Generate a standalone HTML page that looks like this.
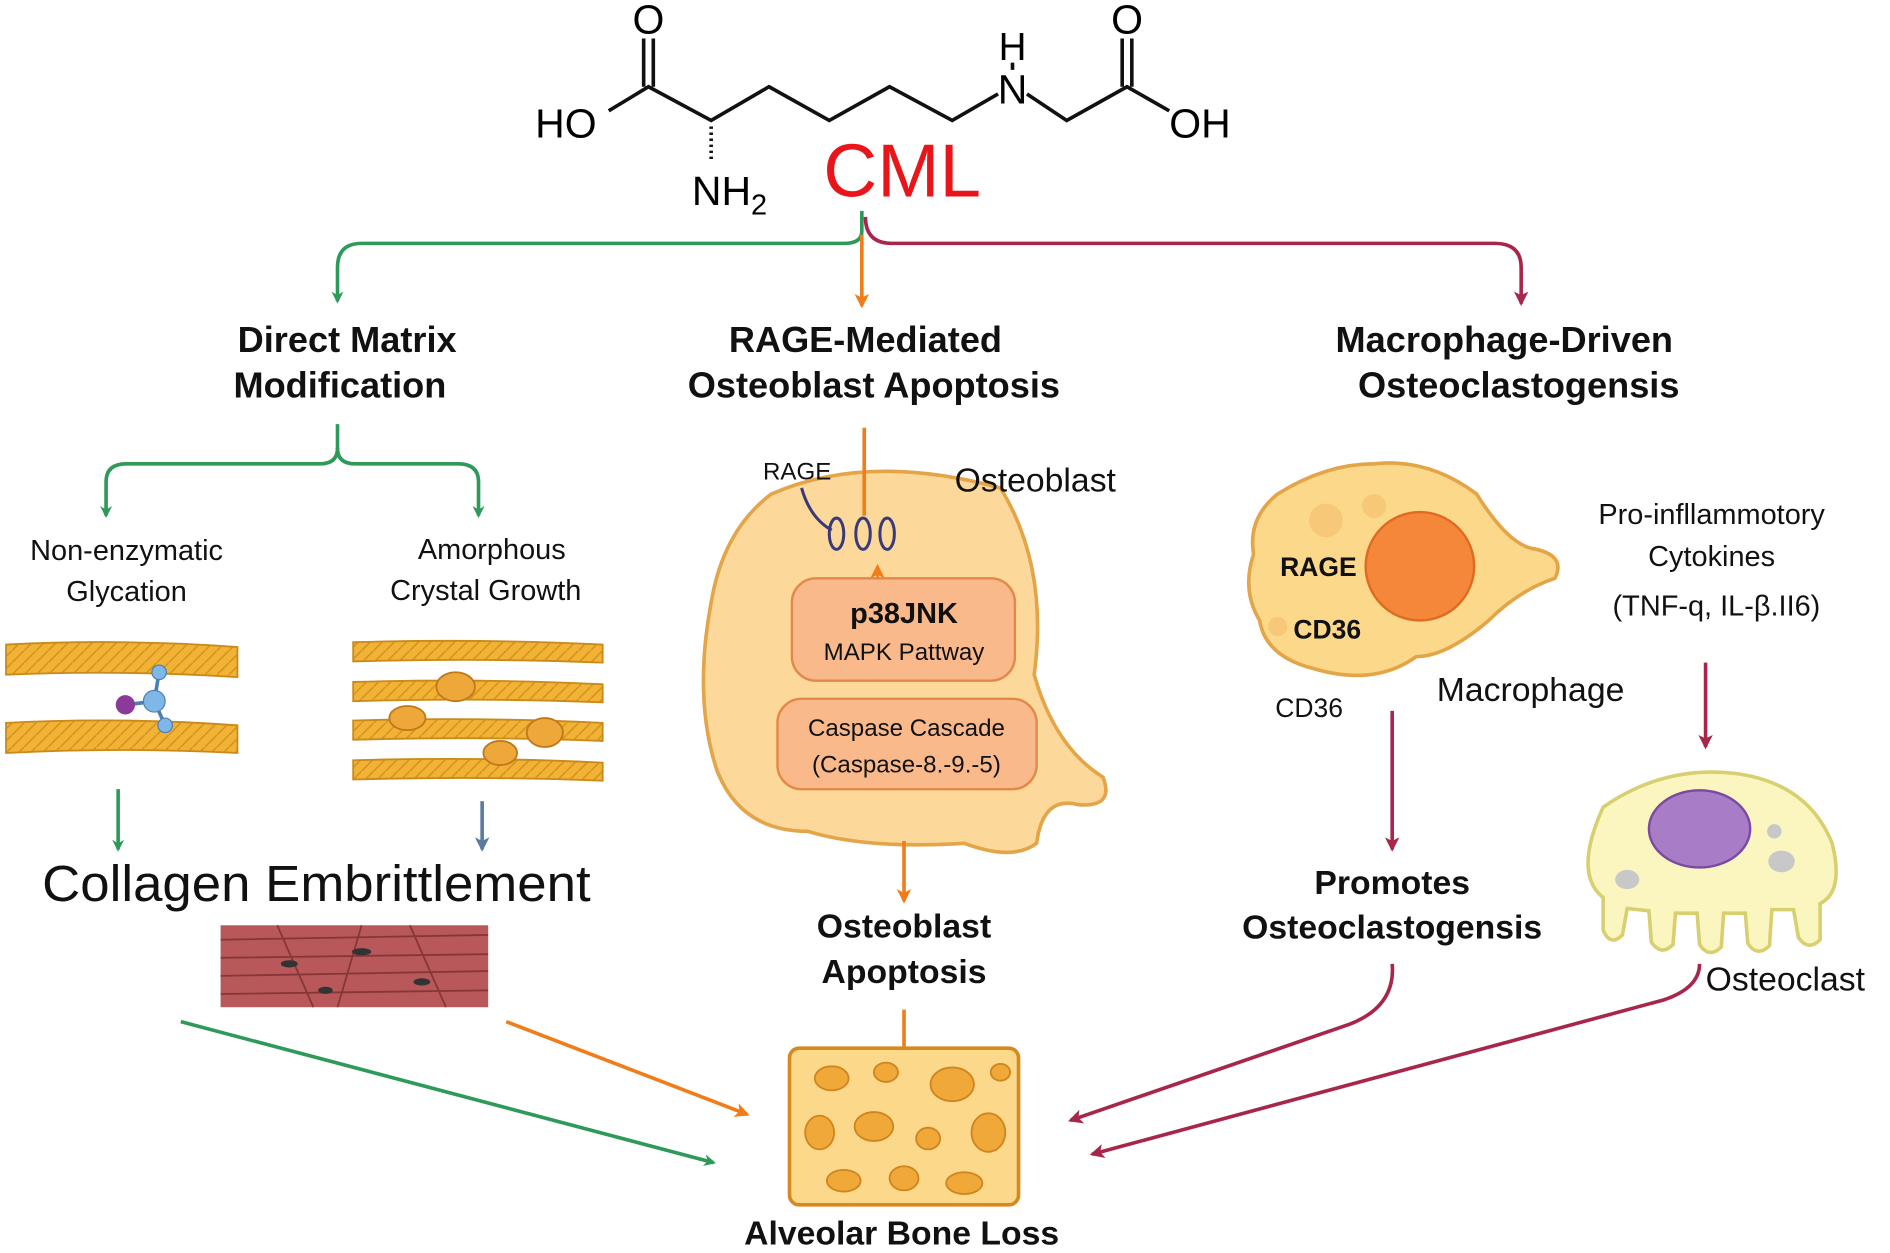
<!DOCTYPE html>
<html><head><meta charset="utf-8"><style>
html,body{margin:0;padding:0;background:#fff}
svg{display:block}
text{font-family:"Liberation Sans",sans-serif}
</style></head><body>
<svg width="1890" height="1253" viewBox="0 0 1568 1040" preserveAspectRatio="none" xmlns="http://www.w3.org/2000/svg">
<defs>
<marker id="ag" markerWidth="10" markerHeight="10" refX="8" refY="5" orient="auto" markerUnits="userSpaceOnUse"><path d="M0,0 L10,5 L0,10 L3,5z" fill="#2e9a5a"/></marker>
<marker id="ao" markerWidth="12" markerHeight="12" refX="10" refY="6" orient="auto" markerUnits="userSpaceOnUse"><path d="M0,0 L12,6 L0,12 L3,6z" fill="#f07d1a"/></marker>
<marker id="ar" markerWidth="12" markerHeight="12" refX="10" refY="6" orient="auto" markerUnits="userSpaceOnUse"><path d="M0,0 L12,6 L0,12 L3,6z" fill="#a8264a"/></marker>
<marker id="ab" markerWidth="12" markerHeight="12" refX="10" refY="6" orient="auto" markerUnits="userSpaceOnUse"><path d="M0,0 L12,6 L0,12 L3,6z" fill="#5a7aa0"/></marker>
<pattern id="fib" width="10" height="10" patternUnits="userSpaceOnUse"><rect width="10" height="10" fill="#f1b235"/><path d="M0,10 L10,0" stroke="#d0901e" stroke-width="1.2"/></pattern>
</defs>

<g stroke="#111" stroke-width="3" fill="none">
<path d="M505,92 L538,72 L590,100 L638,72 L688,100 L738,72 L790,100 L828,78"/>
<path d="M852,78 L885,100 L935,72 L970,92"/>
<path d="M534,72 L534,32 M542,72 L542,32"/>
<path d="M931,72 L931,32 M939,72 L939,32"/>
<path d="M840,52 L840,58"/>
<path d="M590,105 L590,135" stroke-dasharray="2,3"/>
</g>
<text x="538" y="28" font-size="34" text-anchor="middle">O</text>
<text x="935" y="28" font-size="34" text-anchor="middle">O</text>
<text x="444" y="114" font-size="34">HO</text>
<text x="970" y="114" font-size="34">OH</text>
<text x="840" y="86" font-size="34" text-anchor="middle">N</text>
<text x="840" y="50" font-size="32" text-anchor="middle">H</text>
<text x="574" y="170" font-size="34">NH<tspan font-size="24" dy="8">2</tspan></text>
<text x="683" y="163" font-size="62" fill="#e8161b">CML</text>

<path d="M715,175 L715,192 Q715,202 700,202 L300,202 Q280,202 280,222 L280,250" stroke="#2e9a5a" stroke-width="3" fill="none" marker-end="url(#ag)"/>
<path d="M718,180 Q718,202 740,202 L1240,202 Q1262,202 1262,222 L1262,252" stroke="#a8264a" stroke-width="3" fill="none" marker-end="url(#ar)"/>
<path d="M715,195 L715,254" stroke="#f07d1a" stroke-width="3" fill="none" marker-end="url(#ao)"/>

<g font-size="30" font-weight="bold" text-anchor="middle" fill="#111">
<text x="288" y="292">Direct Matrix</text><text x="282" y="330">Modification</text>
<text x="718" y="292">RAGE-Mediated</text><text x="725" y="330">Osteoblast Apoptosis</text>
<text x="1248" y="292">Macrophage-Driven</text><text x="1260" y="330">Osteoclastogensis</text>
</g>

<path d="M280,352 L280,372 Q280,385 265,385 L105,385 Q88,385 88,400 L88,428" stroke="#2e9a5a" stroke-width="3" fill="none" marker-end="url(#ag)"/>
<path d="M280,372 Q280,385 295,385 L380,385 Q397,385 397,400 L397,428" stroke="#2e9a5a" stroke-width="3" fill="none" marker-end="url(#ag)"/>

<g font-size="24" text-anchor="middle" fill="#111">
<text x="105" y="465">Non-enzymatic</text><text x="105" y="499">Glycation</text>
<text x="408" y="464">Amorphous</text><text x="403" y="498">Crystal Growth</text>
</g>

<g stroke="#c98a1a" stroke-width="1.5" fill="url(#fib)">
<path d="M5,535 Q100,530 197,537 L197,562 Q100,556 5,560z"/>
<path d="M5,600 Q100,595 197,602 L197,625 Q100,620 5,625z"/>
<path d="M293,533 Q400,530 500,535 L500,550 Q400,546 293,549z"/>
<path d="M293,566 Q400,563 500,568 L500,583 Q400,579 293,582z"/>
<path d="M293,598 Q400,595 500,600 L500,615 Q400,611 293,614z"/>
<path d="M293,631 Q400,628 500,633 L500,648 Q400,644 293,647z"/>
</g>
<g fill="#eea83a" stroke="#c07818" stroke-width="1.5">
<ellipse cx="378" cy="570" rx="16" ry="12"/><ellipse cx="338" cy="596" rx="15" ry="10"/><ellipse cx="452" cy="608" rx="15" ry="12"/><ellipse cx="415" cy="625" rx="14" ry="10"/>
</g>
<g stroke="#4a80b0" stroke-width="3" fill="none"><path d="M105,585 L128,582 L132,558 M128,582 L137,602"/></g>
<circle cx="104" cy="585" r="8" fill="#8a3a9a"/><circle cx="128" cy="582" r="9" fill="#7fb8e8" stroke="#4a80b0"/><circle cx="132" cy="558" r="6" fill="#7fb8e8" stroke="#4a80b0"/><circle cx="137" cy="602" r="6" fill="#7fb8e8" stroke="#4a80b0"/>

<path d="M98,655 L98,705" stroke="#2e9a5a" stroke-width="3" marker-end="url(#ag)"/>
<path d="M400,665 L400,705" stroke="#5a7aa0" stroke-width="3" marker-end="url(#ab)"/>
<text x="35" y="748" font-size="42" fill="#111" textLength="455" lengthAdjust="spacingAndGlyphs">Collagen Embrittlement</text>

<rect x="183" y="768" width="222" height="68" fill="#b8585a"/>
<g stroke="#7a2e30" stroke-width="1.5" opacity="0.8">
<path d="M183,780 L405,776 M183,795 L405,792 M183,810 L405,806 M183,825 L405,822"/>
<path d="M230,768 L260,836 M300,768 L280,836 M340,768 L370,836"/>
</g>
<g fill="#333"><ellipse cx="240" cy="800" rx="7" ry="3"/><ellipse cx="300" cy="790" rx="8" ry="3"/><ellipse cx="350" cy="815" rx="7" ry="3"/><ellipse cx="270" cy="822" rx="6" ry="3"/></g>

<path d="M150,848 L592,965" stroke="#2e9a5a" stroke-width="3" marker-end="url(#ag)"/>
<path d="M420,848 L620,925" stroke="#f07d1a" stroke-width="3" marker-end="url(#ao)"/>

<path d="M640,410 Q720,375 830,405 Q870,470 858,560 Q875,620 915,645 Q925,670 895,668 Q865,660 860,700 Q840,715 800,700 Q720,705 670,690 Q615,690 595,640 Q575,580 590,500 Q600,440 640,410z" fill="#fcd99b" stroke="#e4a448" stroke-width="3"/>
<path d="M717,355 L717,428" stroke="#f07d1a" stroke-width="3"/>
<text x="633" y="398" font-size="20" fill="#111">RAGE</text>
<path d="M665,405 Q672,430 690,440" stroke="#3a3a7a" stroke-width="2.5" fill="none"/>
<g fill="none" stroke="#3a3a7a" stroke-width="2.5"><ellipse cx="694" cy="443" rx="6" ry="13"/><ellipse cx="716" cy="443" rx="6" ry="13"/><ellipse cx="736" cy="443" rx="6" ry="13"/></g>
<text x="792" y="408" font-size="28" fill="#111">Osteoblast</text>
<rect x="657" y="480" width="185" height="85" rx="20" fill="#f9b98a" stroke="#e38848" stroke-width="2"/>
<text x="750" y="517" font-size="24" font-weight="bold" text-anchor="middle" fill="#111">p38JNK</text>
<text x="750" y="548" font-size="20" text-anchor="middle" fill="#111">MAPK Pattway</text>
<rect x="645" y="580" width="215" height="75" rx="20" fill="#f9b98a" stroke="#e38848" stroke-width="2"/>
<text x="752" y="611" font-size="20" text-anchor="middle" fill="#111">Caspase Cascade</text>
<text x="752" y="641" font-size="20" text-anchor="middle" fill="#111">(Caspase-8.-9.-5)</text>
<path d="M728,480 L728,470" stroke="#f07d1a" stroke-width="2" marker-end="url(#ao)"/>
<path d="M750,698 L750,748" stroke="#f07d1a" stroke-width="3" marker-end="url(#ao)"/>
<g font-size="28" font-weight="bold" text-anchor="middle" fill="#111"><text x="750" y="778">Osteoblast</text><text x="750" y="816">Apoptosis</text></g>
<path d="M750,838 L750,872" stroke="#f07d1a" stroke-width="3"/>

<rect x="655" y="870" width="190" height="130" rx="8" fill="#fcd88a" stroke="#d58a20" stroke-width="3"/>
<g fill="#f0a838" stroke="#d08420" stroke-width="1.5">
<ellipse cx="690" cy="895" rx="14" ry="10"/><ellipse cx="735" cy="890" rx="10" ry="8"/><ellipse cx="790" cy="900" rx="18" ry="14"/><ellipse cx="830" cy="890" rx="8" ry="7"/>
<ellipse cx="680" cy="940" rx="12" ry="14"/><ellipse cx="725" cy="935" rx="16" ry="12"/><ellipse cx="770" cy="945" rx="10" ry="9"/><ellipse cx="820" cy="940" rx="14" ry="16"/>
<ellipse cx="700" cy="980" rx="14" ry="9"/><ellipse cx="750" cy="978" rx="12" ry="10"/><ellipse cx="800" cy="982" rx="15" ry="9"/>
</g>
<text x="748" y="1033" font-size="28" font-weight="bold" text-anchor="middle" fill="#111">Alveolar Bone Loss</text>

<path d="M1060,410 Q1100,385 1140,385 Q1185,380 1225,410 Q1250,450 1270,455 Q1300,460 1290,480 Q1260,490 1235,515 Q1200,545 1175,545 Q1140,570 1090,555 Q1050,545 1045,515 Q1030,490 1040,460 Q1035,430 1060,410z" fill="#fcd88a" stroke="#e4a448" stroke-width="3"/>
<g fill="#f7c878"><circle cx="1100" cy="432" r="14"/><circle cx="1140" cy="420" r="10"/><circle cx="1060" cy="520" r="8"/></g>
<circle cx="1178" cy="470" r="45" fill="#f4873a" stroke="#e06a20" stroke-width="2"/>
<text x="1062" y="478" font-size="22" font-weight="bold" fill="#111">RAGE</text>
<text x="1073" y="530" font-size="22" font-weight="bold" fill="#111">CD36</text>
<text x="1058" y="595" font-size="22" fill="#111">CD36</text>
<text x="1192" y="582" font-size="28" fill="#111">Macrophage</text>
<g font-size="24" text-anchor="middle" fill="#111"><text x="1420" y="435">Pro-infllammotory</text><text x="1420" y="470">Cytokines</text><text x="1424" y="511">(TNF-q, IL-β.II6)</text></g>
<path d="M1155,590 L1155,705" stroke="#a8264a" stroke-width="3" marker-end="url(#ar)"/>
<path d="M1415,550 L1415,620" stroke="#a8264a" stroke-width="3" marker-end="url(#ar)"/>
<g font-size="28" font-weight="bold" text-anchor="middle" fill="#111"><text x="1155" y="742">Promotes</text><text x="1155" y="779">Osteoclastogensis</text></g>

<path d="M1330,670 Q1380,635 1440,642 Q1500,650 1520,700 Q1530,740 1510,750 L1510,780 Q1500,790 1492,778 L1488,755 L1470,755 L1468,785 Q1458,795 1450,783 L1448,758 L1430,758 L1428,786 Q1418,796 1410,784 L1408,758 L1390,758 L1388,784 Q1378,794 1370,782 L1368,756 L1350,754 L1346,776 Q1336,786 1330,772 L1330,745 Q1305,725 1330,670z" fill="#fbf6c0" stroke="#d8d070" stroke-width="3"/>
<ellipse cx="1410" cy="688" rx="42" ry="32" fill="#a97cc8" stroke="#7a4aa0" stroke-width="2"/>
<g fill="#c8c8c8"><ellipse cx="1350" cy="730" rx="10" ry="8"/><ellipse cx="1478" cy="715" rx="11" ry="9"/><circle cx="1472" cy="690" r="6"/></g>
<text x="1415" y="822" font-size="28" fill="#111">Osteoclast</text>

<path d="M1155,800 Q1158,835 1120,850 L888,930" stroke="#a8264a" stroke-width="3" fill="none" marker-end="url(#ar)"/>
<path d="M1410,800 Q1410,820 1380,830 L906,958" stroke="#a8264a" stroke-width="3" fill="none" marker-end="url(#ar)"/>
</svg>
</body></html>
